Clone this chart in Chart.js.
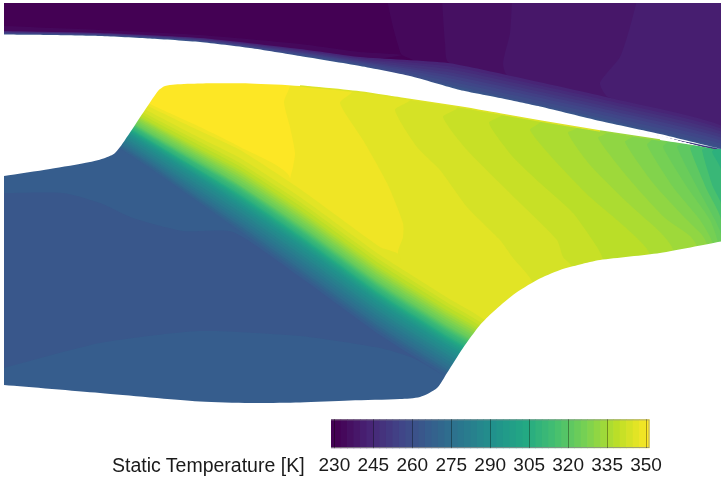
<!DOCTYPE html>
<html>
<head>
<meta charset="utf-8">
<title>Static Temperature</title>
<script src="https://cdn.jsdelivr.net/npm/chart.js@4"></script>
<style>
  body { margin: 0; background: #fff; }
  #wrap { position: relative; width: 721px; height: 477px; overflow: hidden; }
  canvas { position: absolute; left: 0; top: 0; }
  #barTitle { position: absolute; left: 112px; top: 454px; font: 19.5px "Liberation Sans", sans-serif; color: #1a1a1a; white-space: nowrap; }
</style>
</head>
<body>
<div id="wrap">
  <canvas id="field" width="721" height="477"></canvas>
  <canvas id="colorbar" width="721" height="477"></canvas>
  <div id="barTitle">Static Temperature [K]</div>
</div>
<script>
// colorbar
const tickValues = [230, 245, 260, 275, 290, 305, 320, 335, 350];
const barEdges = [228.7, 230, 232.5, 235, 237.5, 240, 242.5, 245, 247.5, 250, 252.5, 255, 257.5, 260, 262.5, 265, 267.5, 270, 272.5, 275, 277.5, 280, 282.5, 285, 287.5, 290, 292.5, 295, 297.5, 300, 302.5, 305, 307.5, 310, 312.5, 315, 317.5, 320, 322.5, 325, 327.5, 330, 332.5, 335, 337.5, 340, 342.5, 345, 347.5, 350, 351.4];

// walls of the passage
const upperWall = [[4, 34.5], [50, 35], [100, 36], [150, 38.5], [200, 42], [250, 48], [300, 56], [360, 66], [410, 76], [460, 90], [500, 98], [540, 106.5], [600, 121], [660, 134], [721, 149]];
// same wall a little lower, the upper stream is painted down to here and the strip is then whitened
const upperWallUnder = [[4, 36], [50, 36.5], [100, 37.5], [150, 40], [200, 43.5], [250, 49.5], [300, 57.5], [360, 67.5], [410, 77.5], [460, 91.5], [500, 99.5], [540, 108], [600, 122.5], [660, 135.5], [721, 149]];
const whiteStripEdge = [[4, 37], [50, 37.5], [100, 38.5], [150, 41], [200, 44.5], [250, 50.5], [300, 58.5], [360, 68.5], [410, 78.5], [460, 92.5], [500, 100.5], [540, 109], [600, 123.5], [660, 136.3], [721, 149]];
const innerTop = [[721, 149], [660, 140], [600, 131], [540, 121], [500, 114], [460, 107], [400, 98], [360, 92], [300, 86], [250, 83.5], [200, 83.5], [175, 84.5], [165, 86], [158, 91], [125, 140], [115, 153], [105, 158], [90, 162], [50, 169], [4, 176]];
const lowerWall = [[721, 241.5], [660, 253], [600, 260], [580, 264.5], [560, 270], [537, 280], [513, 295], [493, 312], [480, 325], [463, 348], [447, 373], [437, 388], [420, 397], [400, 399], [350, 400.5], [300, 402.5], [250, 403], [200, 401.5], [100, 393], [4, 385]];

// upper stream, flat bands
const upperBaseTemp = 230;
const upperTemps = [232.5, 235, 237.5, 240];
const upperLines = [
  [[387, 0], [393, 27], [398, 45], [402, 55]],
  [[442, 0], [445, 43], [448, 62]],
  [[512, 0], [510, 33], [503, 63], [507, 75]],
  [[637, 0], [630, 27], [620, 57], [600, 83], [608, 97]]
];
// faint first step along the wall left of the bands
const upperFirstStep = [[4, 26], [100, 30], [200, 35], [300, 44], [360, 52], [402, 55]];

// upper stream, thin layer next to the wall
const layerX = [4, 100, 200, 300, 360, 448, 507, 608, 721];
const layerTemps = [242.5, 245, 247.5, 250, 252.5, 255, 257.5, 260, 262.5];
const layerY = [
  [31, 33, 38, 49, 57, 63, 75, 97.5, 125.5],
  [31.5, 33.4, 38.5, 49.9, 58.2, 66.1, 78.2, 100.7, 128.6],
  [31.9, 33.75, 39, 50.75, 59.25, 69, 81.2, 103.7, 131.5],
  [32.3, 34.1, 39.5, 51.7, 60.4, 72.1, 84.5, 107, 134.6],
  [32.75, 34.5, 40, 52.5, 61.5, 75, 87.5, 110, 137.5],
  [33.2, 34.9, 40.5, 53.3, 62.6, 77.9, 90.5, 113, 140.4],
  [33.6, 35.25, 41, 54.25, 63.75, 81, 93.7, 116.2, 143.5],
  [34.1, 35.6, 41.5, 55.2, 64.9, 84.1, 97, 119.5, 146.6],
  [34.3, 35.85, 41.8, 55.65, 65.55, 85.8, 98.8, 121.3, 148.3]
];

// behind the shock, hot side cooling to the right
const hotTemp = 350;
const coolTemps = [347.5, 345, 342.5, 340, 337.5, 335, 332.5, 330, 327.5, 325, 322.5, 320, 315, 310, 306];
const coolLines = [
  [[290, 86], [284, 102], [290, 127], [295, 153], [293, 167], [290, 180]],
  [[352, 92], [340, 103], [363, 140], [387, 183], [403, 223], [403, 237], [398, 252]],
  [[410, 100], [395, 110], [417, 147], [440, 170], [467, 207], [500, 240], [513, 258], [533, 284]],
  [[457, 108], [443, 117], [467, 150], [517, 200], [557, 240], [563, 257], [572, 267]],
  [[503, 114], [489, 123], [513, 157], [540, 183], [573, 213], [597, 247], [603, 260]],
  [[540, 122], [530, 130], [557, 163], [590, 197], [625, 227], [650, 255]],
  [[578, 127], [568, 133], [590, 165], [630, 205], [660, 232], [673, 250]],
  [[606, 133], [598, 138], [630, 180], [665, 218], [690, 236], [697, 247]],
  [[633, 136], [625, 142], [653, 183], [685, 218], [702, 235], [707, 245]],
  [[652, 139], [647, 145], [673, 187], [700, 220], [713, 245]],
  [[668, 141], [663, 147], [687, 187], [710, 220], [718, 244]],
  [[682, 143], [677, 147], [697, 187], [715, 220], [721, 235]],
  [[694, 145], [690, 148], [707, 190], [721, 220]],
  [[706, 147], [702, 150], [713, 187], [721, 204]],
  [[715, 148], [712, 152], [721, 170]]
];

// the shock, drawn hot to cold
const shockTemps = [347.5, 345, 342.5, 340, 337.5, 335, 332.5, 330, 327.5, 325, 322.5, 320, 317.5, 315, 312.5, 310, 307.5, 305, 302.5, 300, 297.5, 295, 292.5, 290, 287.5, 285, 282.5, 280, 277.5, 275, 272.5, 270, 267.5, 265];
const shockX = [100, 150, 200, 240, 300, 380, 443, 500];
const shockY = [
  [77, 104, 127, 147, 178],
  [80, 107, 131, 150, 189, 247, 256],
  [85, 112, 138, 158, 197, 255, 295, 334],
  [88, 116, 142, 163, 202, 260, 300, 339],
  [90.5, 119, 145.5, 166.5, 206, 264, 304, 342.5],
  [93, 122, 149, 170, 210, 268, 308, 346],
  [95, 123.5, 151, 172.5, 212.5, 270.5, 310.5, 348.5],
  [97, 125, 153, 175, 215, 273, 313, 351],
  [98.5, 127, 155, 177.5, 217.5, 275.5, 315.5, 353.5],
  [100, 129, 157, 180, 220, 278, 318, 356],
  [101.5, 131, 159, 182.5, 222.5, 280.5, 320.5, 358.5],
  [103, 133, 161, 185, 225, 283, 323, 361],
  [104, 134, 162.5, 186, 226.5, 284.5, 324.5, 362],
  [105, 135, 164, 187, 228, 286, 326, 363],
  [106, 136, 165, 188.5, 229.5, 287.5, 327.5, 364.5],
  [107, 137, 166, 190, 231, 289, 329, 366],
  [108.5, 138.5, 168, 192, 233, 291, 331, 368],
  [110, 140, 170, 194, 235, 293, 333, 370],
  [111, 141, 171, 195.5, 236.5, 294.5, 334.5, 371.5],
  [112, 142, 172, 197, 238, 296, 336, 373],
  [113, 143, 173.5, 198.5, 239.5, 297.5, 337.5, 374.5],
  [114, 144, 175, 200, 241, 299, 339, 376],
  [115, 145.5, 176.5, 202, 243, 301, 341, 378],
  [116, 147, 178, 204, 245, 303, 343, 380],
  [118, 149, 180.5, 206.5, 248, 306, 346, 382.5],
  [120, 151, 183, 209, 251, 309, 349, 385],
  [122, 153.5, 186, 212, 254, 312, 352, 388],
  [124, 156, 189, 215, 257, 315, 355, 391],
  [126, 158, 191.5, 218, 260, 318, 358, 394],
  [128, 160, 194, 221, 263, 321, 361, 397],
  [130, 162, 196.5, 223.5, 266, 324, 364, 399.5],
  [132, 164, 199, 226, 269, 327, 367, 402],
  [133.5, 166, 201, 228.5, 271.5, 329.5, 369.5, 404.5],
  [135, 168, 203, 231, 274, 332, 372, 407]
];
// the two top isotherms stop where the flow behind them is already colder
const shockEndX = [[290], [380, 400]];

// cold lens inside the block below the shock
const lensTemp = 262.5;
const lensShape = [[0, 193], [63, 193], [100, 203], [133, 218], [183, 231], [233, 232], [300, 277], [380, 335], [443, 375], [413, 358], [380, 348], [300, 336], [200, 331], [100, 343], [0, 369]];

const viridis = [[68, 1, 84], [72, 36, 117], [65, 68, 135], [53, 95, 141], [42, 120, 142], [33, 145, 140], [34, 168, 132], [68, 191, 112], [122, 209, 81], [189, 223, 38], [253, 231, 37]];

function tempColor(temp) {
  const pos = Math.min(Math.max((temp - 230) / 120, 0), 1) * 10;
  const i = Math.min(Math.floor(pos), 9);
  const f = pos - i;
  const rgb = viridis[i].map((c, k) => Math.round(c + (viridis[i + 1][k] - c) * f));
  return 'rgb(' + rgb.join(',') + ')';
}

function shape(points, color, tension) {
  return {
    type: 'scatter',
    showLine: true,
    data: points.map(p => ({ x: p[0], y: p[1] })),
    fill: 'shape',
    backgroundColor: color,
    borderWidth: 0,
    pointRadius: 0,
    tension: tension
  };
}

function edgeLine(points, color) {
  return {
    type: 'scatter',
    showLine: true,
    data: points.map(p => ({ x: p[0], y: p[1] })),
    fill: false,
    borderColor: color,
    borderWidth: 1.4,
    pointRadius: 0,
    tension: 0.3
  };
}

// layers in paint order, first one ends up at the back
const layers = [];

layers.push(shape([[0, 70], [721, 70], [721, 430], [0, 430]], tempColor(hotTemp), 0));
coolLines.forEach((line, i) => {
  const last = line[line.length - 1];
  const first = line[0];
  const pts = [[first[0], 70]].concat(line, [[last[0], 430], [721, 430], [721, 70]]);
  layers.push(shape(pts, tempColor(coolTemps[i]), 0.2));
});

shockTemps.forEach((temp, i) => {
  const ys = shockY[i];
  let pts = ys.map((y, k) => [shockX[k], y]);
  if (i < shockEndX.length) {
    const ends = shockEndX[i];
    pts = pts.slice(0, ys.length - ends.length).concat(ends.map((x, k) => [x, ys[ys.length - ends.length + k]]));
  }
  const lastX = pts[pts.length - 1][0];
  pts = pts.concat([[lastX, 430], [0, 430], [0, ys[0]]]);
  layers.push(shape(pts, tempColor(temp), 0.2));
});

layers.push(shape(lensShape, tempColor(lensTemp), 0.2));

// white outside the passage
layers.push(shape(upperWall.concat(innerTop.slice(1)), '#fff', 0.25));
layers.push(shape(lowerWall.concat([[0, 385], [0, 477], [721, 477]]), '#fff', 0.25));

layers.push(edgeLine(innerTop.filter(p => p[0] >= 300 && p[0] <= 600 && p[1] < 140), tempColor(344)));
layers.push(edgeLine(innerTop.filter(p => p[0] >= 600 && p[1] < 149), tempColor(332)));

// upper stream
const underReversed = upperWallUnder.slice().reverse();
const wallLayerLine = layerX.map((x, k) => [x, layerY[3][k]]);
layers.push(shape([[4, 0], [721, 0]].concat(underReversed), tempColor(upperBaseTemp), 0));
layers.push(shape(upperFirstStep.concat(wallLayerLine.filter(p => p[0] <= 360).reverse()), tempColor(upperTemps[0]), 0.2));
upperLines.forEach((line, i) => {
  const endX = line[line.length - 1][0];
  // closes inside the wall layer, which is painted over it
  const tail = wallLayerLine.filter(p => p[0] > endX);
  layers.push(shape(line.concat(tail, [[721, 0]]), tempColor(upperTemps[i]), 0.2));
});
layerY.forEach((ys, i) => {
  const pts = ys.map((y, k) => [layerX[k], y]);
  layers.push(shape(pts.concat(underReversed), tempColor(layerTemps[i]), 0.2));
});
layers.push(shape(upperWall.concat(whiteStripEdge.slice().reverse()), '#fff', 0.2));

// frame of the picture
layers.push(shape([[0, 0], [4, 0], [4, 477], [0, 477]], '#fff', 0));
layers.push(shape([[0, 0], [721, 0], [721, 3], [0, 3]], '#fff', 0));

new Chart(document.getElementById('field'), {
  type: 'scatter',
  data: { datasets: layers.reverse() },
  options: {
    responsive: false,
    animation: false,
    devicePixelRatio: 1,
    plugins: { legend: { display: false }, tooltip: { enabled: false } },
    scales: {
      x: { type: 'linear', display: false, min: 0, max: 721 },
      y: { type: 'linear', display: false, min: 0, max: 477, reverse: true }
    }
  }
});

const barSets = [{
  data: [[barEdges[0], barEdges[barEdges.length - 1]]],
  backgroundColor: 'rgba(0,0,0,0)',
  borderColor: '#8d8d8d',
  borderWidth: 1,
  inflateAmount: 0
}];
for (let i = barEdges.length - 2; i >= 0; i--) {
  barSets.push({
    data: [[barEdges[i], barEdges[i + 1]]],
    backgroundColor: tempColor(barEdges[i]),
    borderWidth: 0
  });
}

new Chart(document.getElementById('colorbar'), {
  type: 'bar',
  data: { labels: ['T'], datasets: barSets },
  options: {
    indexAxis: 'y',
    responsive: false,
    animation: false,
    devicePixelRatio: 1,
    grouped: false,
    barPercentage: 1,
    categoryPercentage: 1,
    layout: { padding: { left: 331, right: 71.3, top: 419.3, bottom: 0 } },
    plugins: { legend: { display: false }, tooltip: { enabled: false } },
    scales: {
      y: { display: false },
      x: {
        type: 'linear',
        min: barEdges[0],
        max: barEdges[barEdges.length - 1],
        afterBuildTicks: axis => { axis.ticks = tickValues.map(v => ({ value: v })); },
        afterFit: axis => { axis.height = 28.7; },
        border: { display: false },
        grid: { color: 'rgba(0,0,0,0.35)', z: 1, drawTicks: false },
        ticks: {
          autoSkip: false,
          maxRotation: 0,
          padding: 6,
          color: '#1a1a1a',
          font: { family: '"Liberation Sans"', size: 19 }
        }
      }
    }
  }
});
</script>
</body>
</html>
